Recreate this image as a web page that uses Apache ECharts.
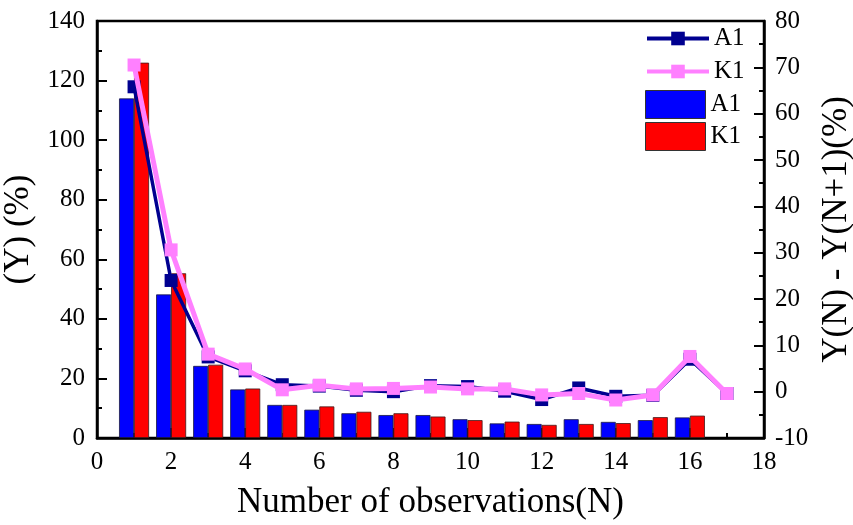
<!DOCTYPE html>
<html>
<head>
<meta charset="utf-8">
<script src="https://cdn.jsdelivr.net/npm/echarts@6/dist/echarts.min.js"></script>
<style>
html,body{margin:0;padding:0;background:#fff;}
#chart{width:853px;height:525px;}
</style>
</head>
<body>
<div id="chart"></div>
<script>
// ---- data ----
const barN = [1, 2, 3, 4, 5, 6, 7, 8, 9, 10, 11, 12, 13, 14, 15, 16];
const barA1 = [114.0, 48.2, 24.2, 16.3, 11.1, 9.5, 8.3, 7.7, 7.7, 6.3, 4.9, 4.7, 6.3, 5.4, 6.0, 6.9];
const barK1 = [126.0, 55.3, 24.6, 16.6, 11.1, 10.6, 8.8, 8.3, 7.2, 6.0, 5.5, 4.4, 4.7, 5.0, 7.0, 7.5];
const lineN = [1, 2, 3, 4, 5, 6, 7, 8, 9, 10, 11, 12, 13, 14, 15, 16, 17];
const lineA1 = [65.8, 24.0, 7.5, 4.5, 1.5, 1.2, 0.3, 0.0, 1.3, 1.1, 0.1, -1.7, 0.8, -1.0, -0.8, 7.0, -0.4];
const lineK1 = [70.5, 30.6, 8.1, 4.9, 0.4, 1.4, 0.6, 0.7, 1.0, 0.6, 0.6, -0.7, -0.4, -1.8, -0.7, 7.6, -0.4];

const xTitle = 'Number of observations(N)';
const yLeftTitle = '(Y) (%)';
const yRightTitle = 'Y(N) - Y(N+1)(%)';

const pair = (xs, ys) => xs.map((x, i) => [x, ys[i]]);

const FONT = 'Liberation Serif';
const chart = echarts.init(document.getElementById('chart'), null, {renderer: 'canvas'});

const labelStyle = {color: '#000', fontFamily: FONT, fontSize: 25};
const axisCommon = {
  axisLine: {show: true, onZero: false, lineStyle: {color: '#000', width: 2.5}},
  axisTick: {show: true, inside: true, length: 10, lineStyle: {color: '#000', width: 2}},
  minorTick: {show: true, splitNumber: 2, length: 5, lineStyle: {color: '#000', width: 2}},
  splitLine: {show: false},
  nameTextStyle: {color: '#000', fontFamily: FONT, fontSize: 35}
};

chart.setOption({
  animation: false,
  backgroundColor: '#fff',
  textStyle: {fontFamily: FONT},
  grid: {left: 97, right: 89, top: 21, bottom: 87, outerBoundsMode: 'none', containLabel: false,
         show: true, borderColor: '#000', borderWidth: 2.5, backgroundColor: 'transparent'},
  legend: [
    {
      data: ['A1', 'K1'], orient: 'vertical', left: 645, top: 26, padding: 0,
      itemWidth: 62, itemHeight: 17, itemGap: 8,
      lineStyle: {width: 4},
      textStyle: labelStyle
    },
    {
      data: ['A1 ', 'K1 '], orient: 'vertical', left: 645, top: 90, padding: 0,
      itemWidth: 60, itemHeight: 28, itemGap: 3, icon: 'rect',
      itemStyle: {borderColor: '#333', borderWidth: 1},
      textStyle: labelStyle
    }
  ],
  xAxis: Object.assign({}, axisCommon, {
    type: 'value', min: 0, max: 18, interval: 2,
    name: xTitle, nameLocation: 'middle', nameGap: 47,
    axisLabel: Object.assign({}, labelStyle, {margin: 12})
  }),
  yAxis: [
    Object.assign({}, axisCommon, {
      type: 'value', min: 0, max: 140, interval: 20, position: 'left',
      name: yLeftTitle, nameLocation: 'middle', nameGap: 50,
      axisLabel: Object.assign({}, labelStyle, {margin: 12})
    }),
    Object.assign({}, axisCommon, {
      type: 'value', min: -10, max: 80, interval: 10, position: 'right',
      name: yRightTitle, nameLocation: 'middle', nameGap: 51,
      axisLabel: Object.assign({}, labelStyle, {margin: 11})
    })
  ],
  series: [
    {
      name: 'A1 ', type: 'bar', yAxisIndex: 0, data: pair(barN, barA1),
      barWidth: 15, barGap: '0%', z: 2,
      itemStyle: {color: '#0000FF', borderColor: '#1a1a40', borderWidth: 0.8}
    },
    {
      name: 'K1 ', type: 'bar', yAxisIndex: 0, data: pair(barN, barK1),
      barWidth: 15, barGap: '0%', z: 2,
      itemStyle: {color: '#FF0000', borderColor: '#401a1a', borderWidth: 0.8}
    },
    {
      name: 'A1', type: 'line', yAxisIndex: 1, data: pair(lineN, lineA1),
      symbol: 'rect', symbolSize: 13, z: 3,
      lineStyle: {color: '#000090', width: 3.5},
      itemStyle: {color: '#000090'}
    },
    {
      name: 'K1', type: 'line', yAxisIndex: 1, data: pair(lineN, lineK1),
      symbol: 'rect', symbolSize: 13, z: 4,
      lineStyle: {color: '#FF80FF', width: 5},
      itemStyle: {color: '#FF80FF'}
    }
  ]
});
</script>
</body>
</html>
